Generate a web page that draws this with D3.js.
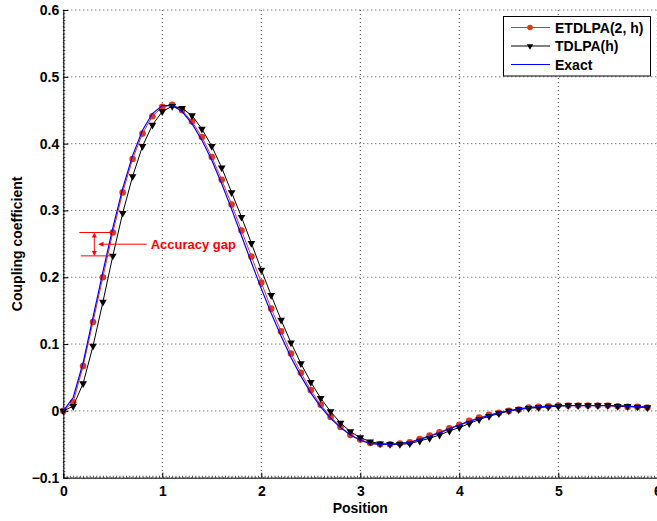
<!DOCTYPE html>
<html>
<head>
<meta charset="utf-8">
<script src="https://cdn.jsdelivr.net/npm/d3@7"></script>
<style>
  body { margin: 0; background: white; }
  svg { display: block; }
  text { font-family: "Liberation Sans", Arial, sans-serif; font-weight: bold; }
</style>
</head>
<body>
<div id="canvas"></div>
<script>
"use strict";

/* Data (step of 0.1 along the position axis) */
let positions = [0.0, 0.1, 0.2, 0.3, 0.4, 0.5, 0.6, 0.7, 0.8, 0.9,
  1.0, 1.1, 1.2, 1.3, 1.4, 1.5, 1.6, 1.7, 1.8, 1.9,
  2.0, 2.1, 2.2, 2.3, 2.4, 2.5, 2.6, 2.7, 2.8, 2.9,
  3.0, 3.1, 3.2, 3.3, 3.4, 3.5, 3.6, 3.7, 3.8, 3.9,
  4.0, 4.1, 4.2, 4.3, 4.4, 4.5, 4.6, 4.7, 4.8, 4.9,
  5.0, 5.1, 5.2, 5.3, 5.4, 5.5, 5.6, 5.7, 5.8, 5.9];

let etdlpaValues = [0.000, 0.013, 0.067, 0.133, 0.200, 0.267, 0.327, 0.377, 0.415, 0.441,
  0.455, 0.458, 0.450, 0.433, 0.410, 0.380, 0.346, 0.309, 0.270, 0.231,
  0.192, 0.153, 0.119, 0.086, 0.057, 0.031, 0.009, -0.009, -0.024, -0.036,
  -0.043, -0.048, -0.050, -0.050, -0.049, -0.047, -0.042, -0.037, -0.032, -0.026,
  -0.021, -0.015, -0.010, -0.006, -0.003, 0.000, 0.002, 0.005, 0.006, 0.007,
  0.008, 0.008, 0.008, 0.008, 0.008, 0.008, 0.007, 0.006, 0.006, 0.005];

let tdlpaValues = [0.000, 0.007, 0.041, 0.097, 0.163, 0.232, 0.296, 0.351, 0.396, 0.428,
  0.448, 0.456, 0.453, 0.442, 0.422, 0.396, 0.364, 0.327, 0.290, 0.251,
  0.211, 0.173, 0.136, 0.102, 0.071, 0.043, 0.019, -0.001, -0.018, -0.031,
  -0.040, -0.046, -0.049, -0.050, -0.050, -0.049, -0.045, -0.041, -0.036, -0.030,
  -0.025, -0.019, -0.013, -0.008, -0.004, 0.000, 0.002, 0.004, 0.005, 0.006,
  0.007, 0.008, 0.008, 0.008, 0.008, 0.008, 0.007, 0.007, 0.006, 0.005];

let exactValues = [0.000, 0.020, 0.072, 0.140, 0.208, 0.274, 0.333, 0.382, 0.420, 0.445,
  0.457, 0.457, 0.448, 0.430, 0.405, 0.375, 0.340, 0.302, 0.262, 0.222,
  0.183, 0.146, 0.112, 0.080, 0.052, 0.027, 0.006, -0.011, -0.025, -0.036,
  -0.044, -0.049, -0.050, -0.050, -0.049, -0.047, -0.043, -0.038, -0.033, -0.027,
  -0.021, -0.016, -0.011, -0.007, -0.003, 0.000, 0.003, 0.005, 0.006, 0.007,
  0.008, 0.008, 0.008, 0.008, 0.008, 0.008, 0.008, 0.007, 0.006, 0.006];

let xTickValues = [0, 1, 2, 3, 4, 5, 6];
let yTickValues = [-0.1, 0, 0.1, 0.2, 0.3, 0.4, 0.5, 0.6];
let legendLabels = ["ETDLPA(2, h)", "TDLPA(h)", "Exact"];

/* Configuration variables: drawing */
let svgWidth = 657;
let svgHeight = 521;
let plotLeft = 63.3;
let plotRight = 657.3;
let plotTop = 10;
let plotBottom = 477.7;

let redColor = "#e0361a";
let fontSize = "14px";

let svg = d3.select("#canvas")
  .append("svg")
  .attr("width", svgWidth)
  .attr("height", svgHeight);

let xScale = d3.scaleLinear()
  .domain([0, 6])
  .range([plotLeft, plotRight]);

let yScale = d3.scaleLinear()
  .domain([-0.1, 0.6])
  .range([plotBottom, plotTop]);

/* Dotted grid */
svg.selectAll(".grid-x")
  .data(xTickValues)
  .enter()
  .append("line")
  .attr("x1", d => xScale(d))
  .attr("x2", d => xScale(d))
  .attr("y1", plotTop)
  .attr("y2", plotBottom)
  .attr("stroke", "#444")
  .attr("stroke-width", 1)
  .attr("stroke-dasharray", "1,3");

svg.selectAll(".grid-y")
  .data(yTickValues)
  .enter()
  .append("line")
  .attr("x1", plotLeft)
  .attr("x2", plotRight)
  .attr("y1", d => yScale(d))
  .attr("y2", d => yScale(d))
  .attr("stroke", "#444")
  .attr("stroke-width", 1)
  .attr("stroke-dasharray", "1,3");

/* Minor ticks (pointing inside) */
let xMinor = d3.range(0, 6.0001, 1 / 30);
let yMinor = d3.range(-0.1, 0.6001, 0.005);

svg.append("g")
  .attr("transform", "translate(0," + plotBottom + ")")
  .call(d3.axisBottom(xScale).tickValues(xMinor).tickSize(-2).tickSizeOuter(0).tickFormat(""))
  .call(g => g.select(".domain").remove())
  .selectAll("line").attr("stroke", "#555");

svg.append("g")
  .attr("transform", "translate(" + plotLeft + ",0)")
  .call(d3.axisLeft(yScale).tickValues(yMinor).tickSize(-2).tickSizeOuter(0).tickFormat(""))
  .call(g => g.select(".domain").remove())
  .selectAll("line").attr("stroke", "#555");

/* Main axes */
let xAxis = svg.append("g")
  .attr("transform", "translate(0," + plotBottom + ")")
  .call(d3.axisBottom(xScale)
    .tickValues(xTickValues)
    .tickSize(-5)
    .tickSizeOuter(0)
    .tickPadding(8)
    .tickFormat(d3.format("d")));

let yAxis = svg.append("g")
  .attr("transform", "translate(" + plotLeft + ",0)")
  .call(d3.axisLeft(yScale)
    .tickValues(yTickValues)
    .tickSize(-5)
    .tickSizeOuter(0)
    .tickPadding(4)
    .tickFormat(d => Math.abs(d) < 1e-9 ? "0" : d3.format(".1f")(d)));

[xAxis, yAxis].forEach(function (g) {
  g.selectAll("text")
    .attr("font-size", fontSize)
    .attr("font-family", "Liberation Sans, Arial, sans-serif")
    .attr("font-weight", "bold")
    .attr("fill", "black");
  g.select(".domain").attr("stroke", "black").attr("stroke-width", 1);
  g.selectAll(".tick line").attr("stroke", "black");
});

/* Series */
function toPoints(values) {
  let pts = [];
  for (let i = 0; i < positions.length; i = i + 1) {
    pts.push({ x: positions[i], y: values[i] });
  }
  return pts;
}

let lineMaker = d3.line()
  .x(d => xScale(d.x))
  .y(d => yScale(d.y));

let etdlpaPoints = toPoints(etdlpaValues);
let tdlpaPoints = toPoints(tdlpaValues);
let exactPoints = toPoints(exactValues);

let triangle = d3.symbol().type(d3.symbolTriangle).size(26);

// ETDLPA: red line with dots
svg.append("path")
  .datum(etdlpaPoints)
  .attr("d", lineMaker)
  .attr("fill", "none")
  .attr("stroke", redColor)
  .attr("stroke-width", 1);

svg.selectAll(".dot-etdlpa")
  .data(etdlpaPoints)
  .enter()
  .append("circle")
  .attr("cx", d => xScale(d.x))
  .attr("cy", d => yScale(d.y))
  .attr("r", 3.3)
  .attr("fill", redColor);

// TDLPA: black line with down triangles
svg.append("path")
  .datum(tdlpaPoints)
  .attr("d", lineMaker)
  .attr("fill", "none")
  .attr("stroke", "black")
  .attr("stroke-width", 1);

svg.selectAll(".tri-tdlpa")
  .data(tdlpaPoints)
  .enter()
  .append("path")
  .attr("d", triangle)
  .attr("transform", d => "translate(" + xScale(d.x) + "," + yScale(d.y) + ") rotate(180)")
  .attr("fill", "black");

// Exact: blue line on top
svg.append("path")
  .datum(exactPoints)
  .attr("d", lineMaker)
  .attr("fill", "none")
  .attr("stroke", "#0000ff")
  .attr("stroke-width", 1.2);

/* Axis labels */
svg.append("text")
  .attr("x", (plotLeft + plotRight) / 2)
  .attr("y", 513)
  .attr("text-anchor", "middle")
  .attr("font-size", fontSize)
  .text("Position");

svg.append("text")
  .attr("transform", "translate(22," + ((plotTop + plotBottom) / 2) + ") rotate(-90)")
  .attr("text-anchor", "middle")
  .attr("font-size", fontSize)
  .text("Coupling coefficient");

/* Accuracy gap annotation (at position 0.5) */
let gapTop = yScale(etdlpaValues[5]);
let gapBottom = yScale(tdlpaValues[5]);
let gapMid = (gapTop + gapBottom) / 2;
let arrowX = 94.3;

svg.append("line")
  .attr("x1", 79.3).attr("x2", xScale(0.5))
  .attr("y1", gapTop).attr("y2", gapTop)
  .attr("stroke", "red").attr("stroke-width", 1);

svg.append("line")
  .attr("x1", 80.7).attr("x2", xScale(0.49))
  .attr("y1", gapBottom).attr("y2", gapBottom)
  .attr("stroke", "red").attr("stroke-width", 1);

// double arrow between the two lines
svg.append("line")
  .attr("x1", arrowX).attr("x2", arrowX)
  .attr("y1", gapTop + 3).attr("y2", gapBottom - 3)
  .attr("stroke", "red").attr("stroke-width", 1);

svg.append("path")
  .attr("d", "M" + arrowX + "," + gapTop + " l-2.5,5 l5,0 z")
  .attr("fill", "red");

svg.append("path")
  .attr("d", "M" + arrowX + "," + gapBottom + " l-2.5,-5 l5,0 z")
  .attr("fill", "red");

// pointer from the text
svg.append("line")
  .attr("x1", 146.7).attr("x2", 101)
  .attr("y1", gapMid).attr("y2", gapMid)
  .attr("stroke", "red").attr("stroke-width", 1);

svg.append("path")
  .attr("d", "M98,"+ gapMid + " l5.5,-2.5 l0,5 z")
  .attr("fill", "red");

svg.append("text")
  .attr("x", 150.7)
  .attr("y", gapMid + 4.5)
  .attr("font-size", "13px")
  .attr("fill", "red")
  .text("Accuracy gap");

/* Legend */
let legendX = 503.5;
let legendY = 16.5;

svg.append("rect")
  .attr("x", legendX)
  .attr("y", legendY)
  .attr("width", 147)
  .attr("height", 59.5)
  .attr("fill", "white")
  .attr("stroke", "black")
  .attr("stroke-width", 1);

let legendColors = [redColor, "black", "#0000ff"];

for (let i = 0; i < legendLabels.length; i = i + 1) {
  let rowY = legendY + 11 + i * 18.5;

  svg.append("line")
    .attr("x1", legendX + 7.5)
    .attr("x2", legendX + 46.5)
    .attr("y1", rowY)
    .attr("y2", rowY)
    .attr("stroke", legendColors[i])
    .attr("stroke-width", i === 2 ? 1.2 : 1);

  if (i === 0) {
    svg.append("circle")
      .attr("cx", legendX + 26.5)
      .attr("cy", rowY)
      .attr("r", 2.8)
      .attr("fill", redColor);
  }
  if (i === 1) {
    svg.append("path")
      .attr("d", d3.symbol().type(d3.symbolTriangle).size(18))
      .attr("transform", "translate(" + (legendX + 26.5) + "," + rowY + ") rotate(180)")
      .attr("fill", "black");
  }

  svg.append("text")
    .attr("x", legendX + 51.5)
    .attr("y", rowY + 5)
    .attr("font-size", fontSize)
    .text(legendLabels[i]);
}
</script>
</body>
</html>
